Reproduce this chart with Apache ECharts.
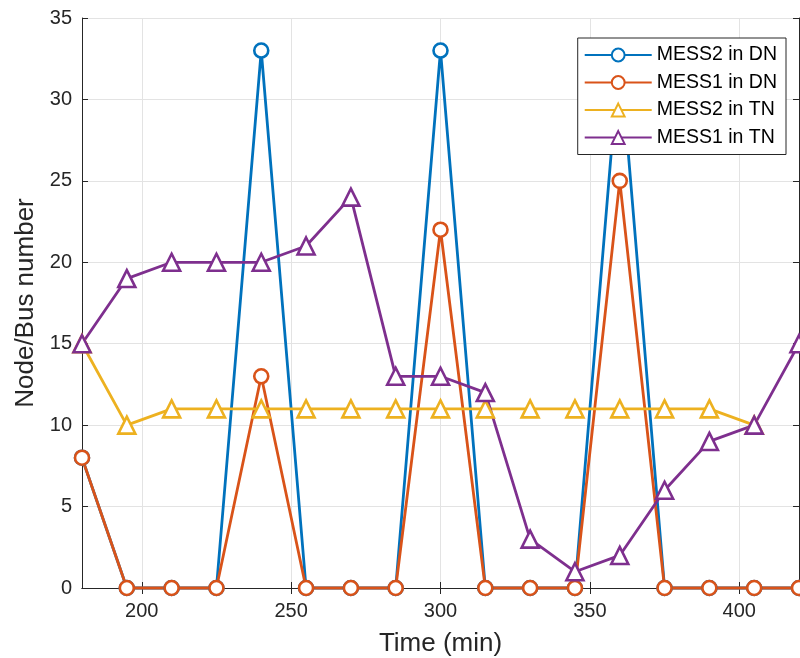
<!doctype html>
<html lang="en">
<head>
  <meta charset="utf-8">
  <title>Node/Bus number over time</title>
  <script src="https://cdn.jsdelivr.net/npm/echarts@6/dist/echarts.min.js"></script>
  <style>
    html, body { margin: 0; padding: 0; background: #fff; }
    #chart { width: 800px; height: 658px; }
  </style>
</head>
<body>
  <div id="chart"></div>
  <script type="text/javascript">
    // time stamps (min)
    const times = [180, 195, 210, 225, 240, 255, 270, 285, 300, 315, 330, 345, 360, 375, 390, 405, 420];
    const mess2DN = [8, 0, 0, 0, 33, 0, 0, 0, 33, 0, 0, 0, 33, 0, 0, 0, 0];
    const mess1DN = [8, 0, 0, 0, 13, 0, 0, 0, 22, 0, 0, 0, 25, 0, 0, 0, 0];
    const mess2TN = [15, 10, 11, 11, 11, 11, 11, 11, 11, 11, 11, 11, 11, 11, 11, 10, null];
    const mess1TN = [15, 19, 20, 20, 20, 21, 24, 13, 13, 12, 3, 1, 2, 6, 9, 10, 15];
    const xTicks = [200, 250, 300, 350, 400];

    const names = ['MESS2 in DN', 'MESS1 in DN', 'MESS2 in TN', 'MESS1 in TN'];
    const colors = ['#0072BD', '#D95319', '#EDB120', '#7E2F8E'];

    const axisColor = '#262626';
    const gridColor = '#e3e3e3';
    const font = 'Liberation Sans, Arial, sans-serif';

    const pairs = (ys) => times.map((t, i) => [t, ys[i]]);

    const makeSeries = (name, ys, color, symbol, size) => ({
      name: name,
      type: 'line',
      data: pairs(ys),
      symbol: symbol,
      symbolSize: size,
      showAllSymbol: true,
      lineStyle: { width: 2.8, color: color },
      itemStyle: { color: '#fff', borderColor: color, borderWidth: 2.6 },
      emphasis: { disabled: true },
      clip: false,
      connectNulls: false
    });

    const chart = echarts.init(document.getElementById('chart'));
    chart.setOption({
      animation: false,
      textStyle: { fontFamily: font },
      grid: { left: 82, right: 1, top: 18, bottom: 70, outerBoundsMode: 'none', containLabel: false },
      legend: {
        data: names,
        orient: 'vertical',
        right: 14,
        top: 38,
        itemWidth: 67,
        itemHeight: 16,
        itemGap: 5.5,
        padding: [6, 9, 6, 6],
        backgroundColor: '#fff',
        borderColor: axisColor,
        borderWidth: 1,
        textStyle: { fontSize: 19.5, lineHeight: 22, color: '#000', fontFamily: font }
      },
      xAxis: [{
        type: 'value',
        min: 180,
        max: 420,
        name: 'Time (min)',
        nameLocation: 'middle',
        nameGap: 43,
        nameTextStyle: { fontSize: 26, color: axisColor },
        axisLine: { lineStyle: { color: axisColor, width: 1 } },
        axisTick: { inside: true, length: 6, customValues: xTicks, lineStyle: { color: axisColor } },
        axisLabel: { fontSize: 20, color: axisColor, margin: 13, customValues: xTicks },
        splitLine: { show: true, customValues: xTicks, lineStyle: { color: gridColor, width: 1 } }
      }, {
        type: 'value',
        position: 'top',
        min: 180,
        max: 420,
        axisLine: { lineStyle: { color: axisColor, width: 1 } },
        axisTick: { inside: true, length: 6, customValues: xTicks, lineStyle: { color: axisColor } },
        axisLabel: { show: false },
        splitLine: { show: false }
      }],
      yAxis: [{
        type: 'value',
        min: 0,
        max: 35,
        interval: 5,
        name: 'Node/Bus number',
        nameLocation: 'middle',
        nameGap: 43,
        nameTextStyle: { fontSize: 26, color: axisColor },
        axisLine: { show: true, lineStyle: { color: axisColor, width: 1 } },
        axisTick: { show: true, inside: true, length: 6, lineStyle: { color: axisColor } },
        axisLabel: { fontSize: 20, color: axisColor, margin: 10 },
        splitLine: { show: true, lineStyle: { color: gridColor, width: 1 } }
      }, {
        type: 'value',
        position: 'right',
        min: 0,
        max: 35,
        interval: 5,
        axisLine: { show: true, lineStyle: { color: axisColor, width: 1 } },
        axisTick: { show: true, inside: true, length: 6, lineStyle: { color: axisColor } },
        axisLabel: { show: false },
        splitLine: { show: false }
      }],
      series: [
        makeSeries(names[0], mess2DN, colors[0], 'circle', 14),
        makeSeries(names[1], mess1DN, colors[1], 'circle', 14),
        makeSeries(names[2], mess2TN, colors[2], 'triangle', 17),
        makeSeries(names[3], mess1TN, colors[3], 'triangle', 17)
      ]
    });
  </script>
</body>
</html>
